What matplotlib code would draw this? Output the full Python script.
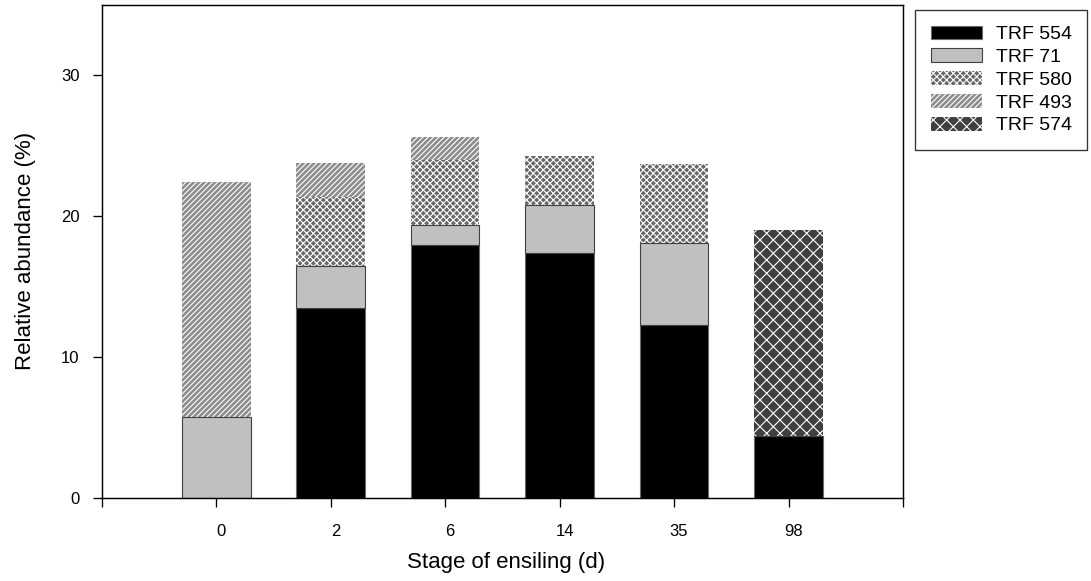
import numpy as np
import matplotlib.pyplot as plt
import matplotlib.transforms as mtransforms

# relative abundance (%) of each TRF per ensiling stage
stages = ['0', '2', '6', '14', '35', '98']
trf554 = [0.0, 13.45, 17.95, 17.4, 12.25, 4.4]
trf71 = [5.7, 3.0, 1.45, 3.4, 5.85, 0.0]
trf580 = [0.0, 4.9, 4.6, 3.45, 5.6, 0.0]
trf493 = [16.7, 2.4, 1.6, 0.0, 0.0, 0.0]
trf574 = [0.0, 0.0, 0.0, 0.0, 0.0, 14.6]

W, H, DPI = 1091, 581, 80


def main():
    plt.rcParams['font.family'] = ['Liberation Sans', 'DejaVu Sans']
    plt.rcParams['hatch.linewidth'] = 1.0

    fig = plt.figure(figsize=(W / DPI, H / DPI), dpi=DPI)
    ax = fig.add_axes([101.7 / W, 1 - 497.7 / H, (903 - 101.7) / W, (497.7 - 5) / H])

    x = np.arange(len(stages))
    w = 0.6
    a = np.array(trf554)
    b = np.array(trf71)
    c = np.array(trf580)
    d = np.array(trf493)
    e = np.array(trf574)

    ax.bar(x, a, w, color='black', edgecolor='#6a6a6a', linewidth=1, label='TRF 554')
    ax.bar(x, b, w, bottom=a, color='#c0c0c0', edgecolor='#404040', linewidth=1, label='TRF 71')
    ax.bar(x, c, w, bottom=a + b, color='#686868', edgecolor='white', linewidth=0,
           hatch='xxxx', label='TRF 580')
    ax.bar(x, d, w, bottom=a + b + c, color='#8c8c8c', edgecolor='white', linewidth=0,
           hatch='/////', label='TRF 493')
    ax.bar(x, e, w, bottom=a + b + c + d, color='#404040', edgecolor='white', linewidth=0,
           hatch='xx', label='TRF 574')

    ax.set_xlim(-1, 6)
    ax.set_ylim(0, 35)
    ax.set_xticks(np.arange(-1, 7))
    ax.set_xticklabels([''] + stages + [''])
    ax.set_yticks([0, 10, 20, 30])
    ax.tick_params(axis='x', direction='out', length=8, width=1.2, pad=16, labelsize=15)
    ax.tick_params(axis='y', direction='out', length=8, width=1.2, pad=12, labelsize=15)
    for s in ax.spines.values():
        s.set_linewidth(1.3)

    # labels sit a little right of the ticks
    off = mtransforms.ScaledTranslation(5 / DPI, 0, fig.dpi_scale_trans)
    for lab in ax.get_xticklabels():
        lab.set_transform(lab.get_transform() + off)

    ax.set_xlabel('Stage of ensiling (d)', fontsize=20)
    ax.set_ylabel('Relative abundance (%)', fontsize=20)
    ax.xaxis.set_label_coords(0.5 + 4 / 801.3, -0.11)
    ax.yaxis.set_label_coords(-0.082, 0.5)

    leg = ax.legend(loc='upper left', bbox_to_anchor=(915 / W, 1 - 10 / H),
                    bbox_transform=fig.transFigure, borderaxespad=0,
                    fontsize=17.5, fancybox=False, frameon=True,
                    handlelength=2.63, handleheight=0.72, handletextpad=0.72,
                    labelspacing=0.26, borderpad=0.8)
    leg.get_frame().set_edgecolor('black')
    leg.get_frame().set_linewidth(1.2)

    fig.savefig('out.png', dpi=DPI)


if __name__ == '__main__':
    main()
